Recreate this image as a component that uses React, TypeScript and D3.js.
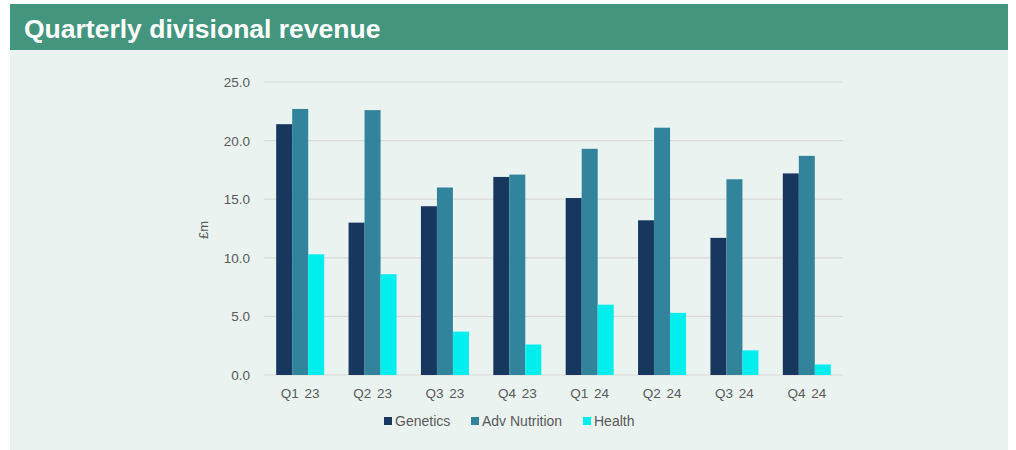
import React, { useEffect, useRef } from 'react';
import * as d3 from 'd3';

const quarters = ['Q1 23', 'Q2 23', 'Q3 23', 'Q4 23', 'Q1 24', 'Q2 24', 'Q3 24', 'Q4 24'];
const seriesNames = ['Genetics', 'Adv Nutrition', 'Health'];
const genetics = [21.4, 13.0, 14.4, 16.9, 15.1, 13.2, 11.7, 17.2];
const advNutrition = [22.7, 22.6, 16.0, 17.1, 19.3, 21.1, 16.7, 18.7];
const health = [10.3, 8.6, 3.7, 2.6, 6.0, 5.3, 2.1, 0.9];
const yTicks = [0, 5, 10, 15, 20, 25];
const colors = ['#17375e', '#31849b', '#00eeee'];

const W = 1016;
const H = 450;

const App = () => {
  const svgRef = useRef<SVGSVGElement>(null);

  useEffect(() => {
    if (!svgRef.current) return;
    const svg = d3.select(svgRef.current);
    svg.selectAll('*').remove();

    const font = 'Liberation Sans, Arial, sans-serif';

    // panel + title bar
    svg.append('rect').attr('x', 10).attr('y', 4).attr('width', 998).attr('height', 446).attr('fill', '#eaf3f0');
    svg.append('rect').attr('x', 10).attr('y', 4).attr('width', 998).attr('height', 46).attr('fill', '#43957d');
    svg.append('text')
      .attr('x', 24).attr('y', 38)
      .attr('fill', '#ffffff')
      .attr('font-family', font)
      .attr('font-weight', 'bold')
      .attr('font-size', 26.5)
      .text('Quarterly divisional revenue');

    const left = 264, right = 843, top = 82, bottom = 375;

    const x = d3.scaleBand().domain(quarters).range([left, right]).paddingInner(0).paddingOuter(0);
    const y = d3.scaleLinear().domain([0, 25]).range([bottom, top]);
    const xs = d3.scaleBand().domain(seriesNames).range([0, 48]);
    const groupOffset = (x.bandwidth() - 48) / 2;

    const g = svg.append('g');

    // gridlines
    g.selectAll('.grid')
      .data(yTicks)
      .enter()
      .append('line')
      .attr('x1', left).attr('x2', right)
      .attr('y1', d => y(d)).attr('y2', d => y(d))
      .attr('stroke', '#d9d9d9')
      .attr('stroke-width', 1.2);

    // y labels
    g.selectAll('.ylab')
      .data(yTicks)
      .enter()
      .append('text')
      .attr('x', 250)
      .attr('y', d => y(d) + 5)
      .attr('text-anchor', 'end')
      .attr('font-family', font)
      .attr('font-size', 13.5)
      .attr('fill', '#595959')
      .text(d => d.toFixed(1));

    svg.append('text')
      .attr('transform', 'translate(208,230) rotate(-90)')
      .attr('text-anchor', 'middle')
      .attr('font-family', font)
      .attr('font-size', 13)
      .attr('fill', '#595959')
      .text('£m');

    const series = [genetics, advNutrition, health];
    series.forEach((vals, si) => {
      g.selectAll('.bar' + si)
        .data(vals)
        .enter()
        .append('rect')
        .attr('x', (d, i) => (x(quarters[i]) as number) + groupOffset + (xs(seriesNames[si]) as number))
        .attr('y', d => y(d))
        .attr('width', xs.bandwidth())
        .attr('height', d => bottom - y(d))
        .attr('fill', colors[si]);
    });

    // x labels
    g.selectAll('.xlab')
      .data(quarters)
      .enter()
      .append('text')
      .attr('x', d => (x(d) as number) + x.bandwidth() / 2)
      .attr('y', 398)
      .attr('text-anchor', 'middle')
      .attr('font-family', font)
      .attr('font-size', 13.5)
      .attr('fill', '#595959')
      .attr('word-spacing', 2)
      .text(d => d);

    // legend
    const legendX = [384, 471, 583];
    const lg = svg.append('g');
    seriesNames.forEach((name, i) => {
      lg.append('rect')
        .attr('x', legendX[i]).attr('y', 417)
        .attr('width', 8).attr('height', 8)
        .attr('fill', colors[i]);
      lg.append('text')
        .attr('x', legendX[i] + 11).attr('y', 426)
        .attr('font-family', font)
        .attr('font-size', 14)
        .attr('fill', '#595959')
        .text(name);
    });
  }, []);

  return (
    <div style={{ position: 'absolute', left: 0, top: 0 }}>
      <svg ref={svgRef} width={W} height={H} style={{ display: 'block' }}></svg>
    </div>
  );
};

export default App;
